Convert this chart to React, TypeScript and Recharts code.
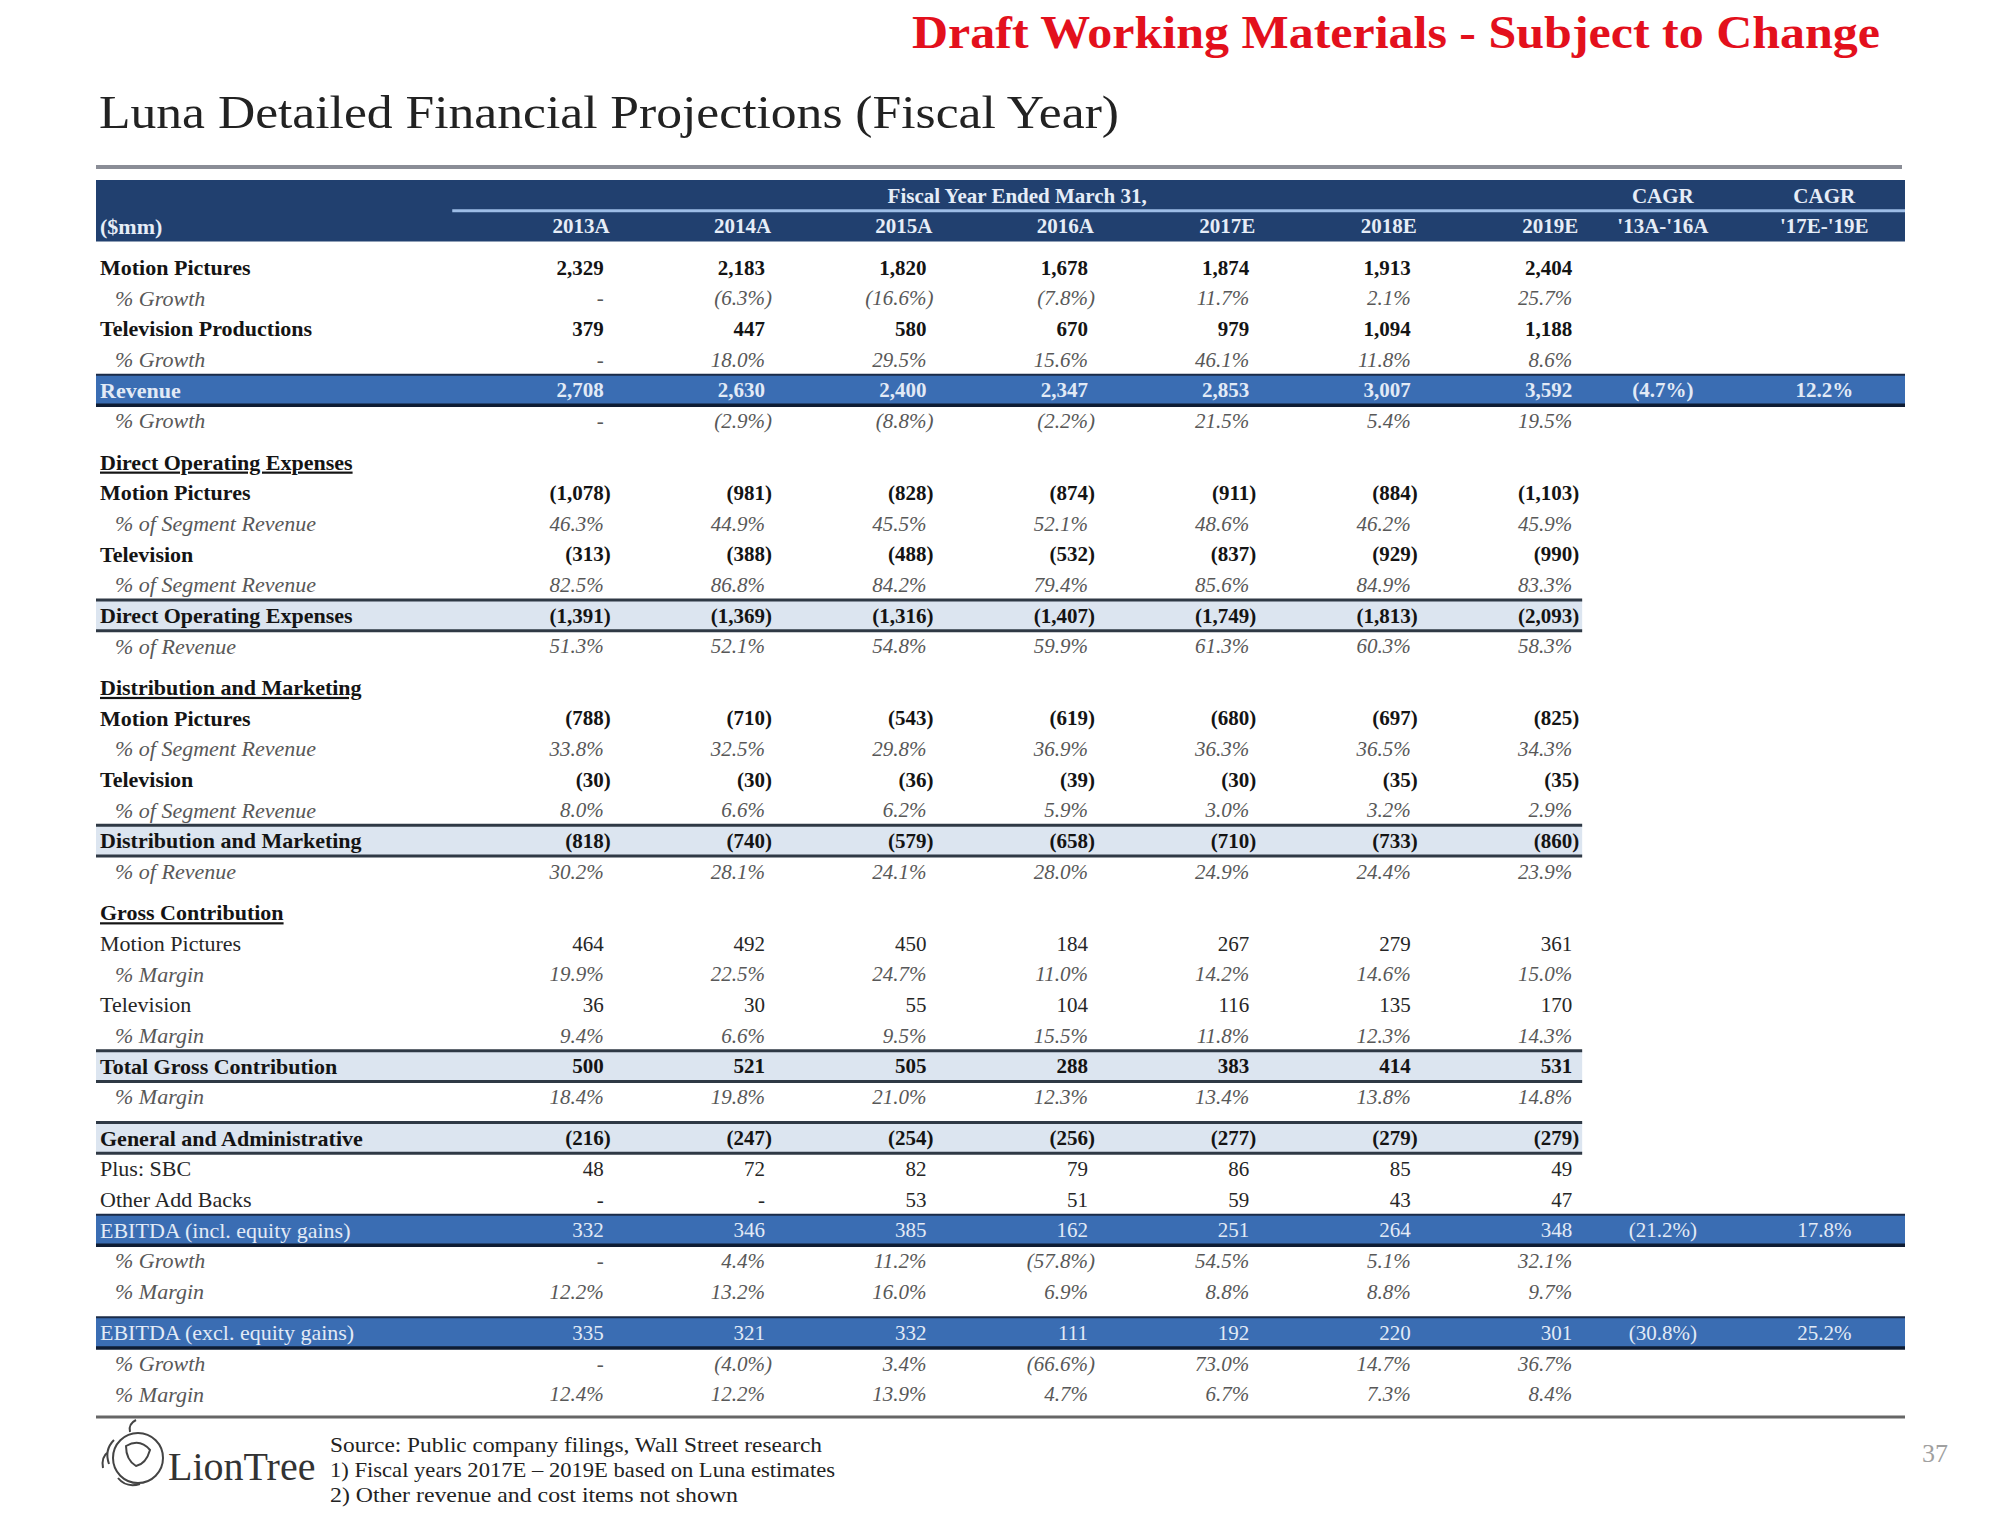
import React from 'react';
import { ScatterChart, Scatter, XAxis, YAxis, ReferenceArea, ReferenceLine } from 'recharts';

// column headers
const years = ['2013A', '2014A', '2015A', '2016A', '2017E', '2018E', '2019E'];
const cagrPeriods = ["'13A-'16A", "'17E-'19E"];

// revenue ($mm)
const mpRevenue = [2329, 2183, 1820, 1678, 1874, 1913, 2404];
const mpRevenueGrowth = [null, -6.3, -16.6, -7.8, 11.7, 2.1, 25.7];
const tvRevenue = [379, 447, 580, 670, 979, 1094, 1188];
const tvRevenueGrowth = [null, 18.0, 29.5, 15.6, 46.1, 11.8, 8.6];
const revenue = [2708, 2630, 2400, 2347, 2853, 3007, 3592];
const revenueGrowth = [null, -2.9, -8.8, -2.2, 21.5, 5.4, 19.5];
const revenueCagr = [-4.7, 12.2];

// direct operating expenses
const doeMotionPictures = [-1078, -981, -828, -874, -911, -884, -1103];
const doeMotionPicturesPct = [46.3, 44.9, 45.5, 52.1, 48.6, 46.2, 45.9];
const doeTelevision = [-313, -388, -488, -532, -837, -929, -990];
const doeTelevisionPct = [82.5, 86.8, 84.2, 79.4, 85.6, 84.9, 83.3];
const doeTotal = [-1391, -1369, -1316, -1407, -1749, -1813, -2093];
const doeTotalPct = [51.3, 52.1, 54.8, 59.9, 61.3, 60.3, 58.3];

// distribution and marketing
const dmMotionPictures = [-788, -710, -543, -619, -680, -697, -825];
const dmMotionPicturesPct = [33.8, 32.5, 29.8, 36.9, 36.3, 36.5, 34.3];
const dmTelevision = [-30, -30, -36, -39, -30, -35, -35];
const dmTelevisionPct = [8.0, 6.6, 6.2, 5.9, 3.0, 3.2, 2.9];
const dmTotal = [-818, -740, -579, -658, -710, -733, -860];
const dmTotalPct = [30.2, 28.1, 24.1, 28.0, 24.9, 24.4, 23.9];

// gross contribution
const gcMotionPictures = [464, 492, 450, 184, 267, 279, 361];
const gcMotionPicturesPct = [19.9, 22.5, 24.7, 11.0, 14.2, 14.6, 15.0];
const gcTelevision = [36, 30, 55, 104, 116, 135, 170];
const gcTelevisionPct = [9.4, 6.6, 9.5, 15.5, 11.8, 12.3, 14.3];
const gcTotal = [500, 521, 505, 288, 383, 414, 531];
const gcTotalPct = [18.4, 19.8, 21.0, 12.3, 13.4, 13.8, 14.8];

// G&A and EBITDA
const gna = [-216, -247, -254, -256, -277, -279, -279];
const sbc = [48, 72, 82, 79, 86, 85, 49];
const otherAddBacks = [null, null, 53, 51, 59, 43, 47];
const ebitdaIncl = [332, 346, 385, 162, 251, 264, 348];
const ebitdaInclGrowth = [null, 4.4, 11.2, -57.8, 54.5, 5.1, 32.1];
const ebitdaInclMargin = [12.2, 13.2, 16.0, 6.9, 8.8, 8.8, 9.7];
const ebitdaInclCagr = [-21.2, 17.8];
const ebitdaExcl = [335, 321, 332, 111, 192, 220, 301];
const ebitdaExclGrowth = [null, -4.0, 3.4, -66.6, 73.0, 14.7, 36.7];
const ebitdaExclMargin = [12.4, 12.2, 13.9, 4.7, 6.7, 7.3, 8.4];
const ebitdaExclCagr = [-30.8, 25.2];

type Kind = 'bold' | 'pct' | 'blue' | 'blueBold' | 'total' | 'section' | 'plain';
interface RowDef {
  label?: string;
  kind?: Kind;
  values?: (number | null)[];
  cagr?: number[];
  gap?: boolean;
}

const GAP: RowDef = { gap: true };

const rowDefs: RowDef[] = [
  { label: 'Motion Pictures', kind: 'bold', values: mpRevenue },
  { label: '% Growth', kind: 'pct', values: mpRevenueGrowth },
  { label: 'Television Productions', kind: 'bold', values: tvRevenue },
  { label: '% Growth', kind: 'pct', values: tvRevenueGrowth },
  { label: 'Revenue', kind: 'blueBold', values: revenue, cagr: revenueCagr },
  { label: '% Growth', kind: 'pct', values: revenueGrowth },
  GAP,
  { label: 'Direct Operating Expenses', kind: 'section' },
  { label: 'Motion Pictures', kind: 'bold', values: doeMotionPictures },
  { label: '% of Segment Revenue', kind: 'pct', values: doeMotionPicturesPct },
  { label: 'Television', kind: 'bold', values: doeTelevision },
  { label: '% of Segment Revenue', kind: 'pct', values: doeTelevisionPct },
  { label: 'Direct Operating Expenses', kind: 'total', values: doeTotal },
  { label: '% of Revenue', kind: 'pct', values: doeTotalPct },
  GAP,
  { label: 'Distribution and Marketing', kind: 'section' },
  { label: 'Motion Pictures', kind: 'bold', values: dmMotionPictures },
  { label: '% of Segment Revenue', kind: 'pct', values: dmMotionPicturesPct },
  { label: 'Television', kind: 'bold', values: dmTelevision },
  { label: '% of Segment Revenue', kind: 'pct', values: dmTelevisionPct },
  { label: 'Distribution and Marketing', kind: 'total', values: dmTotal },
  { label: '% of Revenue', kind: 'pct', values: dmTotalPct },
  GAP,
  { label: 'Gross Contribution', kind: 'section' },
  { label: 'Motion Pictures', kind: 'plain', values: gcMotionPictures },
  { label: '% Margin', kind: 'pct', values: gcMotionPicturesPct },
  { label: 'Television', kind: 'plain', values: gcTelevision },
  { label: '% Margin', kind: 'pct', values: gcTelevisionPct },
  { label: 'Total Gross Contribution', kind: 'total', values: gcTotal },
  { label: '% Margin', kind: 'pct', values: gcTotalPct },
  GAP,
  { label: 'General and Administrative', kind: 'total', values: gna },
  { label: 'Plus: SBC', kind: 'plain', values: sbc },
  { label: 'Other Add Backs', kind: 'plain', values: otherAddBacks },
  { label: 'EBITDA (incl. equity gains)', kind: 'blue', values: ebitdaIncl, cagr: ebitdaInclCagr },
  { label: '% Growth', kind: 'pct', values: ebitdaInclGrowth },
  { label: '% Margin', kind: 'pct', values: ebitdaInclMargin },
  GAP,
  { label: 'EBITDA (excl. equity gains)', kind: 'blue', values: ebitdaExcl, cagr: ebitdaExclCagr },
  { label: '% Growth', kind: 'pct', values: ebitdaExclGrowth },
  { label: '% Margin', kind: 'pct', values: ebitdaExclMargin },
];

// layout in axis units: one unit = one row / one column
const HEADER_ROWS = 2;
const GAP_SIZE = 0.34;
const LABEL_COLS = 2.207;
const COLS = years.length + cagrPeriods.length;
const YEAR_END = years.length;

const placedRows: (RowDef & { y: number })[] = [];
let cursor = HEADER_ROWS + GAP_SIZE;
rowDefs.forEach((r) => {
  if (r.gap) {
    cursor += GAP_SIZE;
    return;
  }
  placedRows.push({ ...r, y: cursor + 0.5 });
  cursor += 1;
});
const Y_MAX = cursor + 0.25;

const fmtNum = (v: number | null) => {
  if (v === null) return '-';
  const s = Math.abs(v).toLocaleString('en-US');
  return v < 0 ? `(${s})` : s;
};
const fmtPct = (v: number | null) => {
  if (v === null) return '-';
  const s = `${Math.abs(v).toFixed(1)}%`;
  return v < 0 ? `(${s})` : s;
};

type Role = 'label' | 'value' | 'center' | 'header' | 'hlabel';
interface Cell {
  x: number;
  y: number;
  text: string;
  kind: Kind | 'head';
  role: Role;
}

const cells: Cell[] = [];
cells.push({ x: YEAR_END / 2, y: 0.5, text: 'Fiscal Year Ended March 31,', kind: 'head', role: 'center' });
cagrPeriods.forEach((p, i) => {
  cells.push({ x: YEAR_END + i + 0.5, y: 0.5, text: 'CAGR', kind: 'head', role: 'center' });
  cells.push({ x: YEAR_END + i + 0.5, y: 1.5, text: p, kind: 'head', role: 'center' });
});
cells.push({ x: -LABEL_COLS, y: 1.5, text: '($mm)', kind: 'head', role: 'hlabel' });
years.forEach((yr, i) => cells.push({ x: i + 1, y: 1.5, text: yr, kind: 'head', role: 'header' }));

placedRows.forEach((r) => {
  const kind = r.kind as Kind;
  cells.push({ x: -LABEL_COLS, y: r.y, text: r.label as string, kind, role: 'label' });
  (r.values || []).forEach((v, i) => {
    cells.push({ x: i + 1, y: r.y, text: kind === 'pct' ? fmtPct(v) : fmtNum(v), kind, role: 'value' });
  });
  (r.cagr || []).forEach((v, i) => {
    cells.push({ x: YEAR_END + i + 0.5, y: r.y, text: fmtPct(v), kind, role: 'center' });
  });
});

const FONT = "'Liberation Serif', 'Times New Roman', serif";

const textStyle = (kind: Kind | 'head') => {
  switch (kind) {
    case 'head':
      return { fill: '#e6edf7', fontWeight: 700 };
    case 'pct':
      return { fill: '#585858', fontStyle: 'italic' as const };
    case 'blue':
      return { fill: '#e2eaf6', fontWeight: 400 };
    case 'blueBold':
      return { fill: '#e2eaf6', fontWeight: 700 };
    case 'plain':
      return { fill: '#262626', fontWeight: 400 };
    default:
      return { fill: '#141414', fontWeight: 700 };
  }
};

const renderCell = (props: any) => {
  const { cx, cy, payload } = props;
  const c = payload as Cell;
  let x = cx;
  let anchor: 'start' | 'middle' | 'end' = 'end';
  let size = 21;
  if (c.role === 'label' || c.role === 'hlabel') {
    x = cx + (c.kind === 'pct' ? 19 : 4);
    anchor = 'start';
    size = 22;
  } else if (c.role === 'center') {
    anchor = 'middle';
  } else if (c.role === 'header') {
    x = cx - 4;
  } else {
    x = cx - (c.text.endsWith(')') ? 3 : 10);
  }
  return (
    <text
      x={x}
      y={cy}
      dy="0.35em"
      textAnchor={anchor}
      fontFamily={FONT}
      fontSize={size}
      textDecoration={c.kind === 'section' ? 'underline' : undefined}
      {...textStyle(c.kind)}
    >
      {c.text}
    </text>
  );
};

const blueRows = placedRows.filter((r) => r.kind === 'blue' || r.kind === 'blueBold');
const totalRows = placedRows.filter((r) => r.kind === 'total');

export default function App() {
  return (
    <div style={{ position: 'absolute', left: 0, top: 0, width: 2000, height: 1523, background: '#fff', overflow: 'hidden' }}>
      <svg width={2000} height={1523} style={{ position: 'absolute', left: 0, top: 0 }}>
        <text x={912} y={48} textLength={968} lengthAdjust="spacingAndGlyphs" fontFamily={FONT} fontSize={46} fontWeight={700} fill="#e3101c">
          Draft Working Materials - Subject to Change
        </text>
        <text x={99} y={128} textLength={1020} lengthAdjust="spacingAndGlyphs" fontFamily={FONT} fontSize={47} fill="#222">
          Luna Detailed Financial Projections (Fiscal Year)
        </text>
        <rect x={96} y={165} width={1806} height={4} fill="#8a8d96" />
        <g stroke="#444" strokeWidth={2} fill="none">
          <circle cx={138} cy={1458} r={25} />
          <path d="M126 1446 q14 -8 24 4 q-4 14 -14 16 q-10 -6 -10 -20 z" />
          <path d="M114 1440 q-10 10 -5 24 M108 1452 q-7 5 -5 16 M118 1478 q8 10 22 6 M130 1432 q-2 -8 6 -12" />
        </g>
        <text x={168} y={1480} fontFamily={FONT} fontSize={40} fill="#333">LionTree</text>
        <text x={330} y={1452} textLength={492} lengthAdjust="spacingAndGlyphs" fontFamily={FONT} fontSize={21} fill="#222">Source: Public company filings, Wall Street research</text>
        <text x={330} y={1477} textLength={505} lengthAdjust="spacingAndGlyphs" fontFamily={FONT} fontSize={21} fill="#222">1) Fiscal years 2017E – 2019E based on Luna estimates</text>
        <text x={330} y={1502} textLength={408} lengthAdjust="spacingAndGlyphs" fontFamily={FONT} fontSize={21} fill="#222">2) Other revenue and cost items not shown</text>
        <text x={1922} y={1462} fontFamily={FONT} fontSize={26} fill="#a0a0a0">37</text>
      </svg>
      <div style={{ position: 'absolute', left: 0, top: 0 }}>
        <ScatterChart width={2000} height={1523} margin={{ top: 180, right: 95, bottom: 106, left: 96 }}>
          <XAxis type="number" dataKey="x" domain={[-LABEL_COLS, COLS]} allowDataOverflow hide />
          <YAxis type="number" dataKey="y" domain={[0, Y_MAX]} reversed allowDataOverflow hide />

          <ReferenceArea x1={-LABEL_COLS} x2={COLS} y1={0} y2={HEADER_ROWS} fill="#21406f" fillOpacity={1} stroke="none" ifOverflow="visible" />
          <ReferenceLine segment={[{ x: 0, y: 1 }, { x: COLS, y: 1 }]} stroke="#9dbde6" strokeWidth={3} ifOverflow="visible" />

          {blueRows.map((r) => (
            <ReferenceArea key={`ba${r.y}`} x1={-LABEL_COLS} x2={COLS} y1={r.y - 0.5} y2={r.y + 0.5} fill="#3a6db3" fillOpacity={1} stroke="none" ifOverflow="visible" />
          ))}
          {blueRows.map((r) => (
            <ReferenceLine key={`bt${r.y}`} segment={[{ x: -LABEL_COLS, y: r.y - 0.5 }, { x: COLS, y: r.y - 0.5 }]} stroke="#1b2b47" strokeWidth={2} ifOverflow="visible" />
          ))}
          {blueRows.map((r) => (
            <ReferenceLine key={`bb${r.y}`} segment={[{ x: -LABEL_COLS, y: r.y + 0.5 }, { x: COLS, y: r.y + 0.5 }]} stroke="#0e1c33" strokeWidth={3.5} ifOverflow="visible" />
          ))}

          {totalRows.map((r) => (
            <ReferenceArea key={`ta${r.y}`} x1={-LABEL_COLS} x2={YEAR_END} y1={r.y - 0.5} y2={r.y + 0.5} fill="#dce5f0" fillOpacity={1} stroke="none" ifOverflow="visible" />
          ))}
          {totalRows.map((r) => (
            <ReferenceLine key={`tt${r.y}`} segment={[{ x: -LABEL_COLS, y: r.y - 0.5 }, { x: YEAR_END, y: r.y - 0.5 }]} stroke="#2f3945" strokeWidth={3} ifOverflow="visible" />
          ))}
          {totalRows.map((r) => (
            <ReferenceLine key={`tb${r.y}`} segment={[{ x: -LABEL_COLS, y: r.y + 0.5 }, { x: YEAR_END, y: r.y + 0.5 }]} stroke="#2f3945" strokeWidth={3} ifOverflow="visible" />
          ))}

          <ReferenceLine segment={[{ x: -LABEL_COLS, y: Y_MAX }, { x: COLS, y: Y_MAX }]} stroke="#666" strokeWidth={3} ifOverflow="visible" />

          <Scatter data={cells} shape={renderCell} isAnimationActive={false} />
        </ScatterChart>
      </div>
    </div>
  );
}
